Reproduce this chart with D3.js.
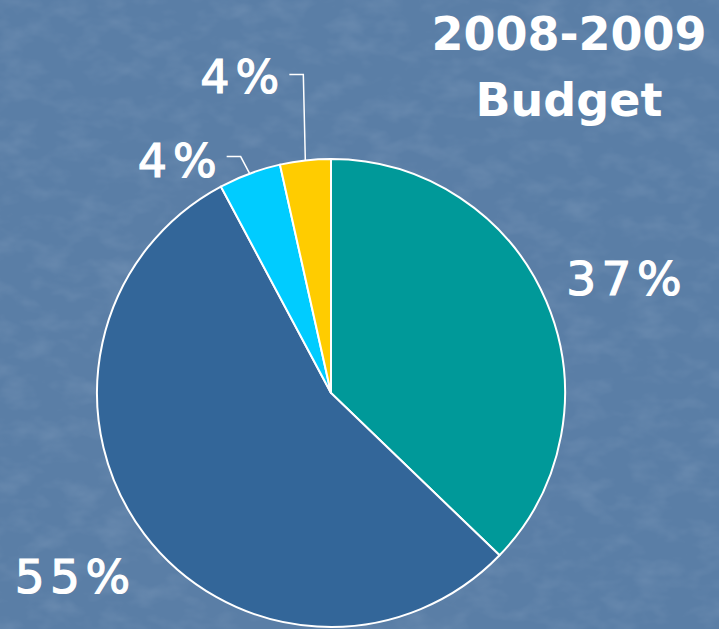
<!DOCTYPE html>
<html>
<head>
<meta charset="utf-8">
<script src="https://cdn.jsdelivr.net/npm/d3@7"></script>
<style>
  html, body { margin: 0; padding: 0; background: #5b7fa7; }
  svg { display: block; }
</style>
</head>
<body>
<div id="chart"></div>
<script>
// data
const categories = ["A", "B", "C", "D"]
const values = [37.2, 55.0, 4.3, 3.5]
const labels = ["37%", "55%", "4%", "4%"]
const colors = ["#009999", "#336699", "#00ccff", "#ffcc00"]
const titleLines = ["2008-2009", "Budget"]

const width = 719, height = 629
const cx = 331, cy = 393, radius = 234

const svg = d3.select("#chart")
    .append("svg")
    .attr("width", width)
    .attr("height", height)

// textured background
const defs = svg.append("defs")
const f = defs.append("filter").attr("id", "tex")
    .attr("x", 0).attr("y", 0).attr("width", "100%").attr("height", "100%")
f.append("feTurbulence")
    .attr("type", "fractalNoise")
    .attr("baseFrequency", "0.03 0.05")
    .attr("numOctaves", 3)
    .attr("seed", 7)
f.append("feColorMatrix")
    .attr("type", "matrix")
    .attr("values", "0 0 0 0 0.85  0 0 0 0 0.9  0 0 0 0 1  1.4 0 0 0 -0.6")

svg.append("rect")
    .attr("width", width).attr("height", height)
    .attr("fill", "#5a7ea6")
svg.append("rect")
    .attr("width", width).attr("height", height)
    .attr("filter", "url(#tex)")
    .attr("opacity", 0.14)

const pie = d3.pie().sort(null).value(d => d)
const arcs = pie(values)
const arc = d3.arc().innerRadius(0).outerRadius(radius)

const g = svg.append("g").attr("transform", `translate(${cx},${cy})`)

g.selectAll("path")
    .data(arcs)
    .enter()
    .append("path")
    .attr("d", arc)
    .attr("fill", (d, i) => colors[i])
    .attr("stroke", "#ffffff")
    .attr("stroke-width", 2)
    .attr("stroke-linejoin", "round")

// labels
const outerLabel = d3.arc().innerRadius(317).outerRadius(317)
const edge = d3.arc().innerRadius(radius).outerRadius(radius)
const labelFont = "'DejaVu Sans', sans-serif"
const bigShift = { 0: [4, 26], 1: [-3, 9] }

arcs.forEach((d, i) => {
    if (d.endAngle - d.startAngle > 0.5) {
        let [x, y] = outerLabel.centroid(d)
        g.append("text")
            .attr("x", x + bigShift[i][0])
            .attr("y", y + bigShift[i][1])
            .attr("text-anchor", "middle")
            .attr("font-family", labelFont)
            .attr("font-size", 47)
            .attr("letter-spacing", 5.5)
            .attr("stroke", "#ffffff")
            .attr("stroke-width", 1.2)
            .attr("fill", "#ffffff")
            .text(labels[i])
    }
})

// small slices get leader lines
const leaders = {
    2: { elbow: [-9, -17], end: [-23, -17], dy: 20 },
    3: { elbow: [-2, -86], end: [-16, -86], dy: 19 }
}
Object.keys(leaders).forEach(k => {
    let d = arcs[k], L = leaders[k]
    let [x, y] = edge.centroid(d)
    let ex = x + L.elbow[0], ey = y + L.elbow[1]
    let tx = x + L.end[0], ty = y + L.end[1]
    g.append("path")
        .attr("d", `M${x},${y} L${ex},${ey} L${tx},${ty}`)
        .attr("fill", "none")
        .attr("stroke", "#ffffff")
        .attr("stroke-width", 1.5)
    g.append("text")
        .attr("x", tx - 4)
        .attr("y", ty + L.dy)
        .attr("text-anchor", "end")
        .attr("font-family", labelFont)
        .attr("font-size", 46)
        .attr("letter-spacing", 6)
        .attr("stroke", "#ffffff")
        .attr("stroke-width", 1.2)
        .attr("fill", "#ffffff")
        .text(labels[k])
})

// title
svg.selectAll(".title")
    .data(titleLines)
    .enter()
    .append("text")
    .attr("class", "title")
    .attr("x", 569)
    .attr("y", (d, i) => 50 + i * 66)
    .attr("text-anchor", "middle")
    .attr("font-family", "'DejaVu Sans', sans-serif")
    .attr("font-size", 46)
    .attr("font-weight", 700)
    .attr("fill", "#ffffff")
    .text(d => d)
</script>
</body>
</html>
